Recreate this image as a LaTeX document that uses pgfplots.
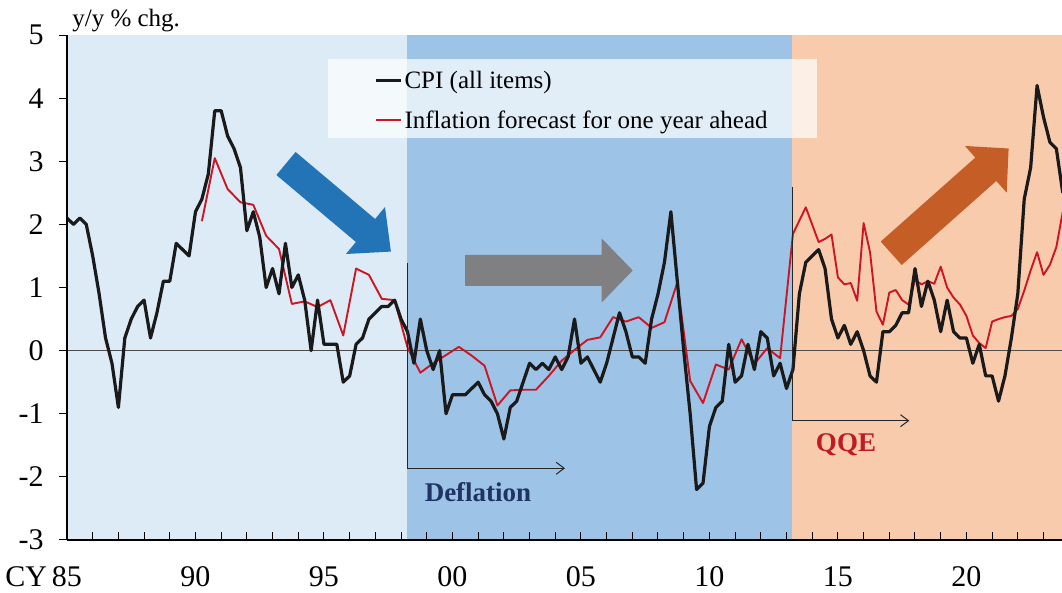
\documentclass[border=0pt]{standalone}
\usepackage{fontspec}
\setmainfont{Liberation Serif}
\usepackage{pgfplots}
\pgfplotsset{compat=1.18}
\usepackage{pgfplotstable}
\usetikzlibrary{arrows.meta}

\definecolor{bgA}{RGB}{221,235,247}
\definecolor{bgB}{RGB}{157,195,230}
\definecolor{bgC}{RGB}{248,203,173}
\definecolor{arrBlue}{RGB}{35,116,182}
\definecolor{arrGray}{RGB}{128,128,130}
\definecolor{arrOrange}{RGB}{197,93,38}
\definecolor{fcRed}{RGB}{204,22,36}
\definecolor{defNavy}{RGB}{31,52,100}
\definecolor{qqeRed}{RGB}{192,26,34}
\definecolor{cpiBlack}{RGB}{26,26,26}

\pgfplotstableread{
year v
1985.00 2.1
1985.25 2.0
1985.50 2.1
1985.75 2.0
1986.00 1.5
1986.25 0.9
1986.50 0.2
1986.75 -0.2
1987.00 -0.9
1987.25 0.2
1987.50 0.5
1987.75 0.7
1988.00 0.8
1988.25 0.2
1988.50 0.6
1988.75 1.1
1989.00 1.1
1989.25 1.7
1989.50 1.6
1989.75 1.5
1990.00 2.2
1990.25 2.4
1990.50 2.8
1990.75 3.8
1991.00 3.8
1991.25 3.4
1991.50 3.2
1991.75 2.9
1992.00 1.9
1992.25 2.2
1992.50 1.8
1992.75 1.0
1993.00 1.3
1993.25 0.9
1993.50 1.7
1993.75 1.0
1994.00 1.2
1994.25 0.8
1994.50 0.0
1994.75 0.8
1995.00 0.1
1995.25 0.1
1995.50 0.1
1995.75 -0.5
1996.00 -0.4
1996.25 0.1
1996.50 0.2
1996.75 0.5
1997.00 0.6
1997.25 0.7
1997.50 0.7
1997.75 0.8
1998.00 0.5
1998.25 0.3
1998.50 -0.2
1998.75 0.5
1999.00 0.0
1999.25 -0.3
1999.50 0.0
1999.75 -1.0
2000.00 -0.7
2000.25 -0.7
2000.50 -0.7
2000.75 -0.6
2001.00 -0.5
2001.25 -0.7
2001.50 -0.8
2001.75 -1.0
2002.00 -1.4
2002.25 -0.9
2002.50 -0.8
2002.75 -0.5
2003.00 -0.2
2003.25 -0.3
2003.50 -0.2
2003.75 -0.3
2004.00 -0.1
2004.25 -0.3
2004.50 -0.1
2004.75 0.5
2005.00 -0.2
2005.25 -0.1
2005.50 -0.3
2005.75 -0.5
2006.00 -0.2
2006.25 0.2
2006.50 0.6
2006.75 0.3
2007.00 -0.1
2007.25 -0.1
2007.50 -0.2
2007.75 0.5
2008.00 0.9
2008.25 1.4
2008.50 2.2
2008.75 1.1
2009.00 0.0
2009.25 -1.0
2009.50 -2.2
2009.75 -2.1
2010.00 -1.2
2010.25 -0.9
2010.50 -0.8
2010.75 0.1
2011.00 -0.5
2011.25 -0.4
2011.50 0.1
2011.75 -0.3
2012.00 0.3
2012.25 0.2
2012.50 -0.4
2012.75 -0.2
2013.00 -0.6
2013.25 -0.3
2013.50 0.9
2013.75 1.4
2014.00 1.5
2014.25 1.6
2014.50 1.3
2014.75 0.5
2015.00 0.2
2015.25 0.4
2015.50 0.1
2015.75 0.3
2016.00 0.0
2016.25 -0.4
2016.50 -0.5
2016.75 0.3
2017.00 0.3
2017.25 0.4
2017.50 0.6
2017.75 0.6
2018.00 1.3
2018.25 0.7
2018.50 1.1
2018.75 0.8
2019.00 0.3
2019.25 0.8
2019.50 0.3
2019.75 0.2
2020.00 0.2
2020.25 -0.2
2020.50 0.1
2020.75 -0.4
2021.00 -0.4
2021.25 -0.8
2021.50 -0.4
2021.75 0.2
2022.00 0.9
2022.25 2.4
2022.50 2.9
2022.75 4.2
2023.00 3.7
2023.25 3.3
2023.50 3.2
2023.75 2.5
}\cpi

\pgfplotstableread{
year v
1990.25 2.05
1990.75 3.05
1991.25 2.56
1991.75 2.35
1992.25 2.31
1992.75 1.82
1993.25 1.61
1993.75 0.74
1994.25 0.78
1994.75 0.69
1995.25 0.80
1995.75 0.24
1996.25 1.30
1996.75 1.20
1997.25 0.82
1997.75 0.80
1998.25 0.05
1998.75 -0.35
1999.25 -0.20
1999.75 -0.07
2000.25 0.06
2000.75 -0.08
2001.25 -0.24
2001.75 -0.87
2002.25 -0.63
2002.75 -0.62
2003.25 -0.62
2003.75 -0.40
2004.25 -0.16
2004.75 0.01
2005.25 0.17
2005.75 0.21
2006.25 0.53
2006.75 0.46
2007.25 0.53
2007.75 0.36
2008.25 0.45
2008.75 1.08
2009.25 -0.48
2009.75 -0.83
2010.25 -0.22
2010.75 -0.30
2011.25 0.18
2011.75 -0.21
2012.25 0.04
2012.75 -0.12
2013.25 1.85
2013.75 2.27
2014.25 1.72
2014.50 1.77
2014.75 1.84
2015.00 1.16
2015.25 1.05
2015.50 1.07
2015.75 0.79
2016.00 2.02
2016.25 1.56
2016.50 0.62
2016.75 0.41
2017.00 0.92
2017.25 0.96
2017.50 0.80
2017.75 0.73
2018.00 1.12
2018.25 1.05
2018.50 1.10
2018.75 1.06
2019.00 1.33
2019.25 1.00
2019.50 0.84
2019.75 0.73
2020.00 0.55
2020.25 0.24
2020.50 0.12
2020.75 0.04
2021.00 0.46
2021.25 0.50
2021.50 0.53
2021.75 0.55
2022.00 0.66
2022.25 0.95
2022.50 1.27
2022.75 1.56
2023.00 1.20
2023.25 1.36
2023.50 1.64
2023.75 2.20
}\fcast

\begin{document}
\begin{tikzpicture}
\begin{axis}[
  at={(0,0)}, anchor=south west,
  scale only axis, width=497.5pt, height=252.5pt,
  xmin=1985, xmax=2023.72, ymin=-3, ymax=5,
  axis x line*=bottom, axis y line*=left,
  axis line style={-, line width=0.6pt, black},
  xtick={1985,1990,...,2020},
  xticklabels={\llap{CY\hspace{2.5pt}}85,90,95,00,05,10,15,20},
  minor xtick={1986,...,2023},
  ytick={-3,-2,...,5},
  yticklabels={-3,-2,-1,0,1,2,3,4,5},
  xtick align=inside, ytick align=outside,
  xtick pos=bottom, ytick pos=left,
  major tick length=4pt, minor tick length=4pt,
  tick style={black, line width=0.5pt},
  xticklabel style={font=\fontsize{15}{17}\selectfont, anchor=base, inner sep=0pt, yshift=-23.5pt},
  yticklabel style={font=\fontsize{15}{17}\selectfont, anchor=east, inner sep=0pt, xshift=-7.5pt},
  axis on top,
  reverse legend,
  legend cell align=left,
  legend style={at={(0.3085,0.9347)}, anchor=north west, draw=none, fill=none,
    inner sep=0pt, row sep=8pt, /tikz/column sep=0pt,
    font=\fontsize{12.5}{15}\selectfont,
    nodes={inner xsep=1pt, inner ysep=0pt, text height=10pt, text depth=2pt}},
  legend image code/.code={\draw[#1] (0pt,0pt) -- (12.5pt,0pt);},
]
\fill[bgA] (axis cs:1985,-3) rectangle (axis cs:1998.23,5);
\fill[bgB] (axis cs:1998.23,-3) rectangle (axis cs:2013.22,5);
\fill[bgC] (axis cs:2013.22,-3) rectangle (axis cs:2023.72,5);
\fill[white, fill opacity=0.7] (axis cs:1995.156,4.626) rectangle (axis cs:2014.18,3.374);
\draw[line width=0.6pt, black!70] (axis cs:1985,0) -- (axis cs:2023.72,0);
\addplot[fcRed, line width=0.95pt, line join=round] table[x=year, y=v] {\fcast};
\addlegendentry{Inflation forecast for one year ahead}
\addplot[cpiBlack, line width=1.6pt, line join=round] table[x=year, y=v] {\cpi};
\addlegendentry{CPI (all items)}
\end{axis}
\begin{scope}[x=0.5pt, y=-0.5pt, shift={(-33.5pt,270pt)}]
\fill[arrBlue] (276.4,175.0) -- (295.6,152.0) -- (375.1,219.0) -- (385.0,207.0) -- (390.9,251.6) -- (346.0,254.0) -- (355.9,242.0) -- cycle;
\fill[arrGray] (465,255) -- (601.7,255) -- (601.7,238.5) -- (632.7,270.5) -- (601.7,302.5) -- (601.7,286) -- (465,286) -- cycle;
\fill[arrOrange] (880.7,241.6) -- (975.3,157.6) -- (965,146) -- (1008.6,148.5) -- (1006.7,192.7) -- (996.3,181) -- (901.7,265) -- cycle;
\draw[line width=0.5pt, black!85, -{Straight Barb[length=4pt,width=6pt]}] (407,263.3) -- (407,468.3) -- (565,468.3);
\draw[line width=0.5pt, black!85, -{Straight Barb[length=4pt,width=6pt]}] (792,186.7) -- (792,420.7) -- (909.3,420.7);
\node[anchor=base, font=\bfseries\fontsize{13.5}{16}\selectfont, text=defNavy, inner sep=0pt] at (478,502) {Deflation};
\node[anchor=base, font=\bfseries\fontsize{13.5}{16}\selectfont, text=qqeRed, inner sep=0pt] at (846,452) {QQE};
\node[anchor=base west, font=\fontsize{12.5}{15}\selectfont, inner sep=0pt] at (72,26.5) {y/y \% chg.};
\pgfresetboundingbox
\path[use as bounding box] (0,0) rectangle (1062,593);
\end{scope}
\end{tikzpicture}
\end{document}
